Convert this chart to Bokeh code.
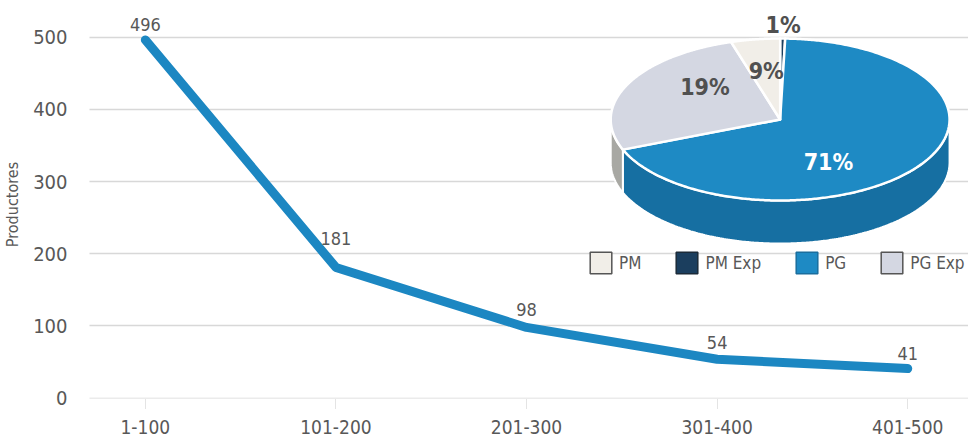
import numpy as np
from bokeh.plotting import figure
from bokeh.models import Range1d, FixedTicker, ColumnDataSource, Legend, LegendItem
from bokeh.core.properties import value
from bokeh.embed import file_html
from bokeh.resources import INLINE

# ---------------- data ----------------
categories = ["1-100", "101-200", "201-300", "301-400", "401-500"]
productores = [496, 181, 98, 54, 41]
y_ticks = [0, 100, 200, 300, 400, 500]
y_label = "Productores"

pie_names = ["PM Exp", "PG", "PG Exp", "PM"]      # clockwise from 12 o'clock
pie_pct = [1, 71, 19, 9]
legend_names = ["PM", "PM Exp", "PG", "PG Exp"]

# ---------------- style ----------------
FONT = "DejaVu Sans Condensed"
TXT = "#585858"
LINE_BLUE = "#1C87C2"
top_color = {"PM": "#F1EEE8", "PM Exp": "#1B3E5E", "PG": "#1E8AC4", "PG Exp": "#D4D7E2"}
side_color = {"PM": "#CFCBC4", "PM Exp": "#122C44", "PG": "#166FA2", "PG Exp": "#A8A8A3"}
legend_border = {"PM": "#555555", "PM Exp": "#1B2A38", "PG": "#1A6E9E", "PG Exp": "#555555"}
pct_color = {"PM": "#505050", "PM Exp": "#505050", "PG": "#FFFFFF", "PG Exp": "#505050"}

W, H = 968, 441
BL, BR, BT, BB = 86, 0, 10, 43
FRAME_W, FRAME_H = W - BL - BR, H - BT - BB
X0 = -0.293
X1 = X0 + FRAME_W / 191.25
Y0, Y1 = -0.4, 536.8

p = figure(width=W, height=H,
           x_range=Range1d(X0, X1), y_range=Range1d(Y0, Y1),
           output_backend="svg", toolbar_location=None,
           min_border_left=BL, min_border_right=BR, min_border_top=BT, min_border_bottom=BB)
p.outline_line_color = None
p.xgrid.visible = False
p.ygrid.ticker = FixedTicker(ticks=y_ticks)
p.ygrid.grid_line_color = "#B0B0B0"
p.ygrid.grid_line_dash = "1 1"
p.ygrid.grid_line_width = 1.3

xa = p.xaxis[0]
xa.ticker = FixedTicker(ticks=list(range(len(categories))))
xa.major_label_overrides = {i: c for i, c in enumerate(categories)}
xa.axis_line_color = None
xa.major_tick_line_color = "#C8C8C8"
xa.major_tick_line_dash = "1 1"
xa.major_tick_in = 0
xa.major_tick_out = 10
xa.minor_tick_line_color = None
xa.major_label_standoff = 11
xa.major_label_text_font = FONT
xa.major_label_text_font_size = "19px"
xa.major_label_text_color = TXT

ya = p.yaxis[0]
ya.ticker = FixedTicker(ticks=y_ticks)
ya.axis_line_color = None
ya.major_tick_line_color = None
ya.minor_tick_line_color = None
ya.major_label_standoff = 16
ya.major_label_text_font = FONT
ya.major_label_text_font_size = "20px"
ya.major_label_text_color = TXT
ya.axis_label = y_label
ya.axis_label_text_font = FONT
ya.axis_label_text_font_style = "normal"
ya.axis_label_text_font_size = "16px"
ya.axis_label_text_color = TXT
ya.axis_label_standoff = 8

# ---------------- line + value labels ----------------
ppx = FRAME_W / (X1 - X0)
ppy = FRAME_H / (Y1 - Y0)
offs = []
for i, v in enumerate(productores):
    lift = 9
    if i > 0:
        slope = (productores[i - 1] - v) * ppy / ppx
        lift = max(lift, slope * 12 + 8)
    offs.append(-lift)

src = ColumnDataSource(dict(x=list(range(len(categories))), y=productores,
                            label=[str(v) for v in productores], yoff=offs))
p.line("x", "y", source=src, line_color=LINE_BLUE, line_width=9,
       line_cap="round", line_join="round")
p.text("x", "y", text="label", source=src, y_offset="yoff", text_align="center",
       text_baseline="bottom", text_font=value(FONT), text_font_size="18px", text_color=TXT)

# ---------------- 3D pie (pixel-space extra ranges) ----------------
p.extra_x_ranges = {"pie_x": Range1d(0, FRAME_W)}
p.extra_y_ranges = {"pie_y": Range1d(0, FRAME_H)}
CX, CY, RX, RY, DEPTH = 693, 279, 170, 81, 43


def rim(phis_deg, dy=0.0):
    ph = np.radians(np.asarray(phis_deg, dtype=float))
    t = np.arctan2(RX * np.sin(ph), RY * np.cos(ph))
    return CX + RX * np.cos(t), CY + RY * np.sin(t) - dy


cum = np.cumsum([0] + pie_pct) / float(sum(pie_pct))
bounds = 90 - 360 * cum

side_xs, side_ys, side_cols = [], [], []
top_xs, top_ys, top_cols = [], [], []
lab_x, lab_y, lab_t, lab_c = [], [], [], []
for k, name in enumerate(pie_names):
    a, b = bounds[k], bounds[k + 1]
    ph = np.linspace(a, b, 240)
    extra = [m * 180.0 for m in range(-4, 3) if b < m * 180.0 < a]
    ph = np.sort(np.concatenate([ph, extra]))[::-1]
    front = np.sin(np.radians(ph)) <= 1e-9
    idx = np.where(front)[0]
    if len(idx) > 1:
        runs = np.split(idx, np.where(np.diff(idx) != 1)[0] + 1)
        for r in runs:
            if len(r) < 2:
                continue
            seg = ph[r]
            x, y = rim(seg)
            xb, yb = rim(seg[::-1], DEPTH)
            side_xs.append(list(x) + list(xb))
            side_ys.append(list(y) + list(yb))
            side_cols.append(side_color[name])
    x, y = rim(ph)
    top_xs.append([CX] + list(x))
    top_ys.append([CY] + list(y))
    top_cols.append(top_color[name])
    mid = (a + b) / 2
    ex, ey = rim([mid])
    frac = 0.6 if pie_pct[k] >= 5 else 1.17
    lab_x.append(CX + (ex[0] - CX) * frac)
    lab_y.append(CY + (ey[0] - CY) * frac)
    lab_t.append(f"{pie_pct[k]}%")
    lab_c.append(pct_color[name])

p.patches(side_xs, side_ys, fill_color=side_cols, line_color="white", line_width=2,
          x_range_name="pie_x", y_range_name="pie_y")
p.patches(top_xs, top_ys, fill_color=top_cols, line_color="white", line_width=2.5,
          line_join="round", x_range_name="pie_x", y_range_name="pie_y")
p.text(lab_x, lab_y, text=lab_t, text_color=lab_c, text_align="center", text_baseline="middle",
       text_font=value(FONT), text_font_size="23px", text_font_style="bold",
       x_range_name="pie_x", y_range_name="pie_y")

# ---------------- legend ----------------
# hidden copy of the slices, used only to draw legend swatches (with dark borders)
swatch = p.patches(top_xs, top_ys, fill_color=top_cols,
                   line_color=[legend_border[n] for n in pie_names], line_width=1.5,
                   x_range_name="pie_x", y_range_name="pie_y", visible=False)
items = [LegendItem(label=name, renderers=[swatch], index=pie_names.index(name))
         for name in legend_names]
legend = Legend(items=items, orientation="horizontal", location=(498, 122),
                glyph_width=27, glyph_height=27, label_standoff=5, spacing=32,
                padding=0, margin=0, border_line_color=None, background_fill_alpha=0,
                label_text_font=FONT, label_text_font_size="17px", label_text_color=TXT)
p.add_layout(legend)

open("out.html", "w").write(file_html(p, INLINE))
